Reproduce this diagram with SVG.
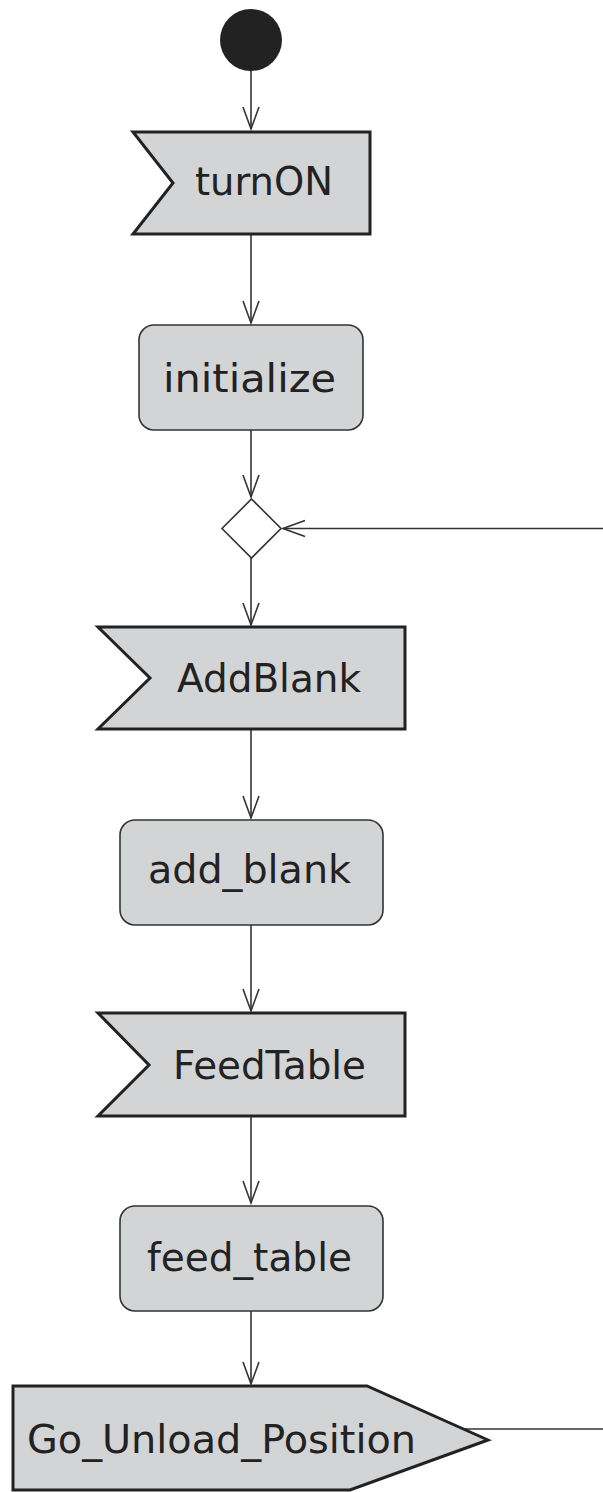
<svg xmlns="http://www.w3.org/2000/svg" width="603" height="1492" viewBox="0 0 603 1492">
<defs>
<style>
.sig{fill:#d3d4d6;stroke:#222;stroke-width:3;stroke-linejoin:miter}
.act{fill:#d3d4d6;stroke:#333;stroke-width:1.6}
.txt{font-family:"DejaVu Sans",Verdana,sans-serif;font-size:39px;fill:#222}
.edge{fill:none;stroke:#333;stroke-width:1.6}
</style>
<marker id="arr" markerUnits="userSpaceOnUse" markerWidth="26" markerHeight="20" refX="23" refY="9" orient="auto" overflow="visible">
<path d="M1,1 L23,9 L1,17" fill="none" stroke="#333" stroke-width="1.6"/>
</marker>
</defs>
<g id="connectors">
<line class="edge" x1="251" y1="70" x2="251" y2="129" marker-end="url(#arr)"/>
<line class="edge" x1="251" y1="233" x2="251" y2="323" marker-end="url(#arr)"/>
<line class="edge" x1="251" y1="430" x2="251" y2="497" marker-end="url(#arr)"/>
<line class="edge" x1="603" y1="528.5" x2="283" y2="528.5" marker-end="url(#arr)"/>
<line class="edge" x1="251" y1="558" x2="251" y2="625" marker-end="url(#arr)"/>
<line class="edge" x1="251" y1="730" x2="251" y2="818" marker-end="url(#arr)"/>
<line class="edge" x1="251" y1="925" x2="251" y2="1011" marker-end="url(#arr)"/>
<line class="edge" x1="251" y1="1117" x2="251" y2="1203" marker-end="url(#arr)"/>
<line class="edge" x1="251" y1="1311" x2="251" y2="1384" marker-end="url(#arr)"/>
<line class="edge" x1="463" y1="1429" x2="603" y2="1429"/>
</g>
<g id="start">
<circle cx="251" cy="40" r="31" fill="#222"/>
</g>
<g id="turnON">
<polygon class="sig" points="133,132 370,132 370,234 133,234 173,183"/>
<text class="txt" x="195" y="195" textLength="138" lengthAdjust="spacingAndGlyphs">turnON</text>
</g>
<g id="initialize">
<rect class="act" x="139" y="325" width="224" height="105" rx="15" ry="15"/>
<text class="txt" x="163" y="392" textLength="173" lengthAdjust="spacingAndGlyphs">initialize</text>
</g>
<g id="merge">
<polygon points="251.5,499 281,528.5 251.5,558 222,528.5" fill="#fff" stroke="#333" stroke-width="1.6"/>
</g>
<g id="AddBlank">
<polygon class="sig" points="98,627 405,627 405,729 98,729 150,678"/>
<text class="txt" x="177" y="692" textLength="184" lengthAdjust="spacingAndGlyphs">AddBlank</text>
</g>
<g id="add_blank">
<rect class="act" x="120" y="820" width="263" height="105" rx="15" ry="15"/>
<text class="txt" x="148" y="883" textLength="203" lengthAdjust="spacingAndGlyphs">add_blank</text>
</g>
<g id="FeedTable">
<polygon class="sig" points="98,1013 405,1013 405,1116 98,1116 149,1065"/>
<text class="txt" x="173" y="1079" textLength="193" lengthAdjust="spacingAndGlyphs">FeedTable</text>
</g>
<g id="feed_table">
<rect class="act" x="120" y="1206" width="263" height="105" rx="15" ry="15"/>
<text class="txt" x="147" y="1271" textLength="205" lengthAdjust="spacingAndGlyphs">feed_table</text>
</g>
<g id="Go_Unload_Position">
<polygon class="sig" points="13,1386 367,1386 488,1440 350,1490 13,1490"/>
<text class="txt" x="27" y="1453" textLength="389" lengthAdjust="spacingAndGlyphs">Go_Unload_Position</text>
</g>
</svg>
